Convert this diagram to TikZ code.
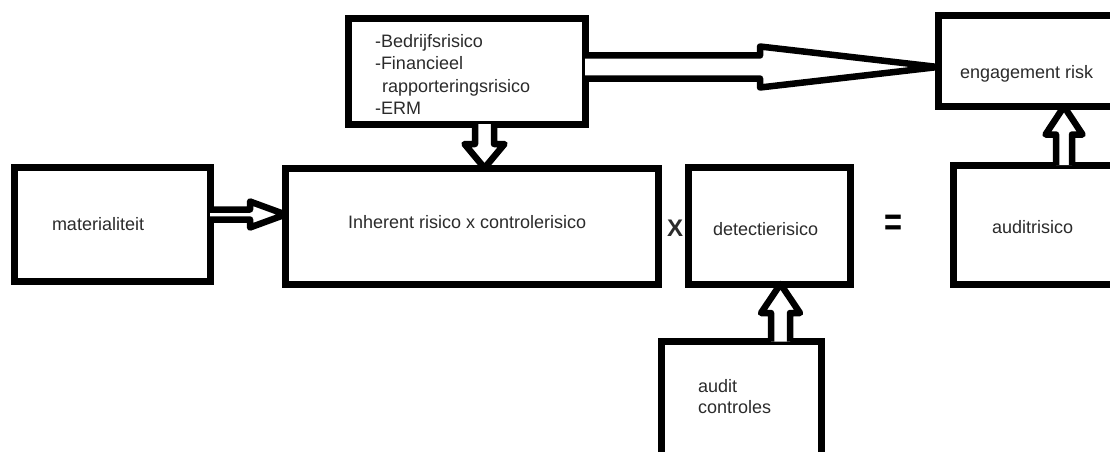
\documentclass[tikz,border=0pt]{standalone}
\usepackage{fontspec}
\setmainfont{Liberation Sans}
\usetikzlibrary{calc}
\definecolor{txt}{HTML}{2B2B2B}
\begin{document}
\begin{tikzpicture}[x=1pt,y=-1pt,
  box/.style={draw=black, line width=7pt, rectangle, inner sep=0pt, outer sep=0pt},
  blk/.style={draw=black, line width=6.5pt, line join=round, fill=white},
  lbl/.style={inner sep=0pt, outer sep=0pt, anchor=base west, text=txt,
              font=\fontsize{18}{22.5}\selectfont}]
\useasboundingbox (0,0) rectangle (1110,452);
\clip (0,0) rectangle (1110,452);
\fill[white] (0,0) rectangle (1110,452);

% boxes
\node[box, minimum width=237pt, minimum height=105.5pt] (A)   at (466.5,71.25) {};
\node[box, minimum width=196pt, minimum height=114pt]   (Mat) at (112,224.5) {};
\node[box, minimum width=373pt, minimum height=116pt]   (Inh) at (472,226) {};
\node[box, minimum width=162pt, minimum height=117pt]   (Det) at (769,225.5) {};
\node[box, minimum width=177pt, minimum height=119pt]   (Aud) at (1041.5,224.5) {};
\node[box, minimum width=192pt, minimum height=90.5pt]  (Eng) at (1034,61.25) {};
\node[box, minimum width=160.5pt, minimum height=128.5pt] (Ctl) at (741.25,405.75) {};

% block arrows
\draw[blk] (Mat.east |- 0,209.5) -- (250,209.5) -- (250,201.5) -- (Inh.west |- 0,214.5)
  -- (250,227.5) -- (250,219.5) -- (Mat.east |- 0,219.5);
\draw[blk] (475,0 |- A.south) -- (475,144) -- (464.5,144) -- (484.5,0 |- Inh.north)
  -- (504.5,144) -- (494,144) -- (494,0 |- A.south);
\draw[blk] (A.east |- 0,55.5) -- (760,55.5) -- (760,46.5) -- (Eng.west |- 0,67)
  -- (760,87.5) -- (760,78.5) -- (A.east |- 0,78.5);
\draw[blk] (771,0 |- Ctl.north) -- (771,313) -- (761,313) -- (780.5,0 |- Det.south)
  -- (800,313) -- (790,313) -- (790,0 |- Ctl.north);
\draw[blk] (1056,0 |- Aud.north) -- (1056,134.5) -- (1045.5,134.5) -- (1064,0 |- Eng.south)
  -- (1082.5,134.5) -- (1072,134.5) -- (1072,0 |- Aud.north);

% texts
\node[lbl, anchor=north west, align=left] (tA) at (375,34)
  {-Bedrijfsrisico\\-Financieel\\\hspace*{7pt}rapporteringsrisico\\-ERM};
\node[lbl] (tMat) at (52,230) {materialiteit};
\node[lbl] (tInh) at (348,228) {Inherent risico x controlerisico};
\node[lbl] (tDet) at (713,235) {detectierisico};
\node[lbl] (tAud) at (992,233) {auditrisico};
\node[lbl] (tEng) at (960,78) {engagement risk};
\node[lbl, anchor=north west, align=left, font=\fontsize{18}{21}\selectfont] (tCtl) at (698,379)
  {audit\\controles};
\node[inner sep=0pt, text=txt, font=\fontsize{24}{24}\selectfont\bfseries] (times) at (675,228.5) {X};
\node[inner sep=0pt, anchor=base, text=black, font=\fontsize{28}{28}\selectfont\bfseries] (eq) at (893.5,235) {\scalebox{1.1}[1.4]{=}};
\end{tikzpicture}
\end{document}
